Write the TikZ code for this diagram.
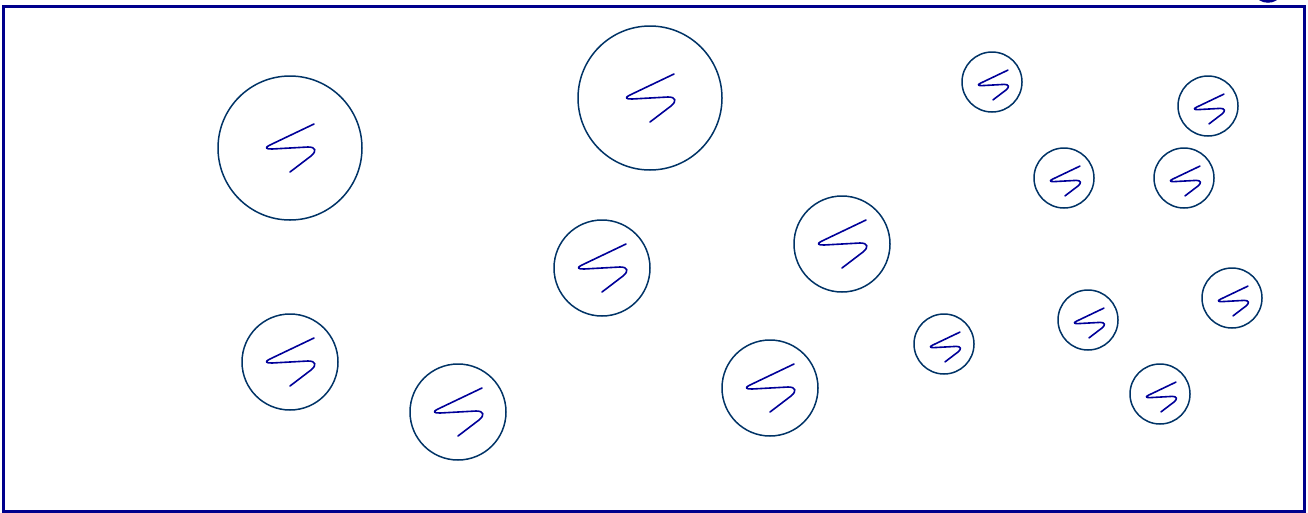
\documentclass[tikz,border=0pt]{standalone}
\definecolor{framec}{RGB}{0,0,140}
\definecolor{ringc}{RGB}{0,51,102}
\definecolor{squigc}{RGB}{0,0,153}
\begin{document}
\begin{tikzpicture}[x=1pt,y=-1pt,
  bub/.style={circle,draw=ringc,line width=1.5pt,inner sep=0pt,outer sep=0pt,fill=none},
  squig/.pic={\draw[squigc,line width=1.6pt,line cap=round,line join=round]
     (24,-24) -- (-20,-3) .. controls (-26,0) and (-24,1) .. (-18,1)
     -- (18,-1) .. controls (26,-1) and (27,3) .. (21,8) -- (0,24);}
  ]
\useasboundingbox (0,0) rectangle (1308,512);
\begin{scope}
\clip (0,0) rectangle (1308,512);
\draw[framec,line width=3pt] (3.5,6) rectangle (1304.5,511.5);
\draw[framec,line width=2.5pt] (1268,-6) ellipse (11 and 7.5);
\end{scope}
% large
\node[bub,minimum size=144] (c1) at (290,148) {};
\node[bub,minimum size=144] (c2) at (650,98) {};
% medium
\node[bub,minimum size=96] (c3) at (290,362) {};
\node[bub,minimum size=96] (c4) at (458,412) {};
\node[bub,minimum size=96] (c5) at (602,268) {};
\node[bub,minimum size=96] (c6) at (842,244) {};
\node[bub,minimum size=96] (c7) at (770,388) {};
% small
\node[bub,minimum size=60] (c8) at (992,82) {};
\node[bub,minimum size=60] (c9) at (1208,106) {};
\node[bub,minimum size=60] (c10) at (1064,178) {};
\node[bub,minimum size=60] (c11) at (1184,178) {};
\node[bub,minimum size=60] (c12) at (1232,298) {};
\node[bub,minimum size=60] (c13) at (944,344) {};
\node[bub,minimum size=60] (c14) at (1088,320) {};
\node[bub,minimum size=60] (c15) at (1160,394) {};
\foreach \n in {c1,c2,c3,c4,c5,c6,c7}{\pic at (\n.center) {squig};}
\foreach \n in {c8,c9,c10,c11,c12,c13,c14,c15}{\pic[shift={(1,3)},scale=0.62] at (\n.center) {squig};}
\end{tikzpicture}
\end{document}
